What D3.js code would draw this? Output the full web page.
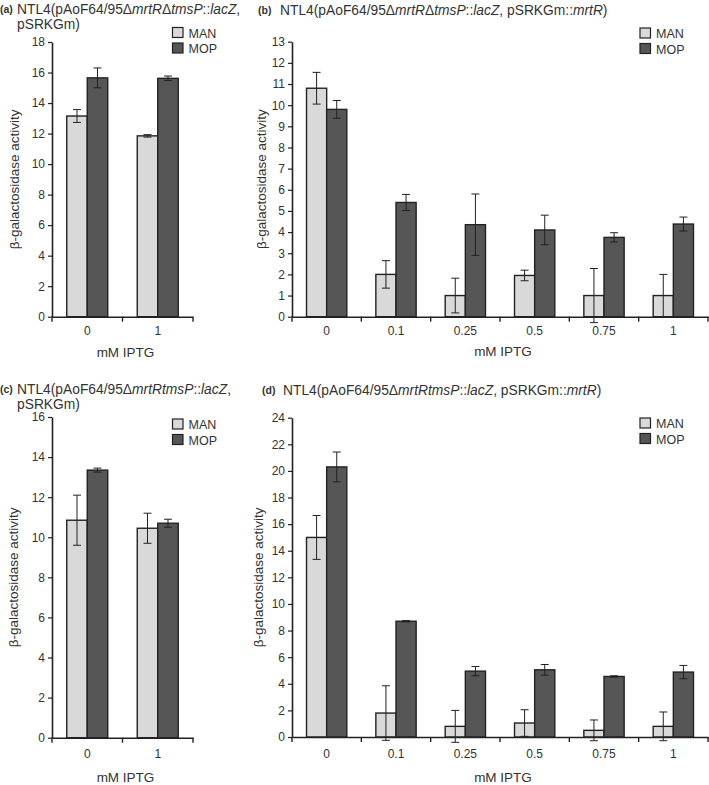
<!DOCTYPE html>
<html><head><meta charset="utf-8">
<script src="https://cdn.jsdelivr.net/npm/d3@7"></script>
<style>
body{margin:0;background:#fff;}
svg{display:block;font-family:"Liberation Sans",Arial,sans-serif;}
</style></head>
<body><svg id="c" width="709" height="785"></svg>
<script>
// ---- data ----
const series = ["MAN", "MOP"];
const catsAC = ["0", "1"];
const catsBD = ["0", "0.1", "0.25", "0.5", "0.75", "1"];

const aMAN = [13.15, 11.85], aMANerr = [0.42, 0.08];
const aMOP = [15.65, 15.62], aMOPerr = [0.65, 0.15];
const aTicks = [0, 2, 4, 6, 8, 10, 12, 14, 16, 18];

const bMAN = [10.8, 2.0, 1.0, 1.95, 1.0, 1.0], bMANerr = [0.75, 0.65, 0.82, 0.25, 1.28, 1.0];
const bMOP = [9.8, 5.4, 4.35, 4.1, 3.75, 4.38], bMOPerr = [0.42, 0.38, 1.45, 0.7, 0.22, 0.33];
const bTicks = [0, 1, 2, 3, 4, 5, 6, 7, 8, 9, 10, 11, 12, 13];

const cMAN = [10.85, 10.45], cMANerr = [1.25, 0.75];
const cMOP = [13.35, 10.7], cMOPerr = [0.1, 0.2];
const cTicks = [0, 2, 4, 6, 8, 10, 12, 14, 16];

const dMAN = [15.0, 1.8, 0.8, 1.05, 0.5, 0.8], dMANerr = [1.65, 2.05, 1.2, 1.0, 0.78, 1.08];
const dMOP = [20.3, 8.7, 4.95, 5.05, 4.55, 4.88], dMOPerr = [1.12, 0.05, 0.35, 0.4, 0.05, 0.5];
const dTicks = [0, 2, 4, 6, 8, 10, 12, 14, 16, 18, 20, 22, 24];

const colors = {MAN: "#d9d9d9", MOP: "#565656"};

// title pieces: [text, italic]
const titleA1 = [["NTL4(pAoF64/95Δ",0],["mrtR",1],["Δ",0],["tmsP",1],["::",0],["lacZ",1],[",",0]];
const titleA2 = [["pSRKGm)",0]];
const titleB1 = [["NTL4(pAoF64/95Δ",0],["mrtR",1],["Δ",0],["tmsP",1],["::",0],["lacZ",1],[", pSRKGm::",0],["mrtR",1],[")",0]];
const titleC1 = [["NTL4(pAoF64/95Δ",0],["mrtRtmsP",1],["::",0],["lacZ",1],[",",0]];
const titleC2 = [["pSRKGm)",0]];
const titleD1 = [["NTL4(pAoF64/95Δ",0],["mrtRtmsP",1],["::",0],["lacZ",1],[", pSRKGm::",0],["mrtR",1],[")",0]];

const svg = d3.select("#c");
const ink = "#222";
const txt = "#333";

function drawPanel(p) {
  const g = svg.append("g");
  // title
  g.append("text").attr("x", p.tagX).attr("y", p.titleY - 1).attr("font-size", 10.5)
    .attr("font-weight", "bold").attr("fill", txt).text(p.tag);
  p.title.forEach((line, i) => {
    const t = g.append("text").attr("x", p.titleX).attr("y", p.titleY + i * 14.5)
      .attr("font-size", 13.8).attr("fill", txt);
    line.forEach(([s, it]) => t.append("tspan").attr("font-style", it ? "italic" : "normal").text(s));
  });

  const x = d3.scaleBand().domain(p.cats).range([p.x0, p.x1]).padding(0);
  const xs = d3.scaleBand().domain(series).range([0, x.bandwidth()]).paddingInner(0).paddingOuter(0.72);
  const y = d3.scaleLinear().domain([0, d3.max(p.ticks)]).range([p.y0, p.yTop]);

  const rows = [];
  p.cats.forEach((c, i) => {
    rows.push({cat: c, s: "MAN", v: p.man[i], e: p.manErr[i]});
    rows.push({cat: c, s: "MOP", v: p.mop[i], e: p.mopErr[i]});
  });

  g.selectAll("rect.bar").data(rows).join("rect").attr("class", "bar")
    .attr("x", d => x(d.cat) + xs(d.s))
    .attr("y", d => y(d.v))
    .attr("width", xs.bandwidth())
    .attr("height", d => y(0) - y(d.v))
    .attr("fill", d => colors[d.s])
    .attr("stroke", ink).attr("stroke-width", 1.4);

  // error bars
  const eg = g.selectAll("g.err").data(rows).join("g").attr("class", "err")
    .attr("stroke", ink).attr("stroke-width", 1);
  const cx = d => x(d.cat) + xs(d.s) + xs.bandwidth() / 2;
  eg.append("line").attr("x1", cx).attr("x2", cx)
    .attr("y1", d => y(d.v + d.e)).attr("y2", d => y(d.v - d.e));
  eg.append("line").attr("x1", d => cx(d) - 4).attr("x2", d => cx(d) + 4)
    .attr("y1", d => y(d.v + d.e)).attr("y2", d => y(d.v + d.e));
  eg.append("line").attr("x1", d => cx(d) - 4).attr("x2", d => cx(d) + 4)
    .attr("y1", d => y(d.v - d.e)).attr("y2", d => y(d.v - d.e));

  // y axis
  const ya = g.append("g").attr("transform", `translate(${p.x0},0)`)
    .call(d3.axisLeft(y).tickValues(p.ticks).tickSize(4).tickSizeOuter(0).tickPadding(3));
  ya.select(".domain").attr("stroke", ink).attr("stroke-width", 1.6);
  ya.selectAll(".tick line").attr("stroke", ink).attr("stroke-width", 1.2);
  ya.selectAll(".tick text").attr("font-size", 12).attr("fill", txt)
    .attr("font-family", "Liberation Sans, Arial, sans-serif");

  // x axis
  const xa = g.append("g").attr("transform", `translate(0,${p.y0})`)
    .call(d3.axisBottom(x).tickSize(0).tickSizeOuter(0).tickPadding(p.xPad));
  xa.select(".domain").attr("stroke", ink).attr("stroke-width", 1.6);
  xa.selectAll(".tick text").attr("font-size", 12).attr("fill", txt)
    .attr("font-family", "Liberation Sans, Arial, sans-serif");
  const bounds = p.cats.map(c => x(c)).concat([x(p.cats[p.cats.length - 1]) + x.bandwidth()]);
  xa.selectAll("line.bt").data(bounds).join("line").attr("class", "bt")
    .attr("x1", d => d).attr("x2", d => d).attr("y1", 0).attr("y2", 5)
    .attr("stroke", ink).attr("stroke-width", 1.4);

  // axis titles
  g.append("text").attr("x", (p.x0 + p.x1) / 2 + 3).attr("y", p.xLabelY)
    .attr("text-anchor", "middle").attr("font-size", 13.5).attr("fill", txt).text("mM IPTG");
  g.append("text").attr("transform", `translate(${p.yLabelX},${(p.y0 + p.yTop) / 2}) rotate(-90)`)
    .attr("text-anchor", "middle").attr("font-size", 13.5).attr("fill", txt).text("β-galactosidase activity");

  // legend
  series.forEach((s, i) => {
    g.append("rect").attr("x", p.legX).attr("y", p.legY + i * 15.5).attr("width", 10.5).attr("height", 10)
      .attr("fill", colors[s]).attr("stroke", ink).attr("stroke-width", 1.2);
    g.append("text").attr("x", p.legX + 16).attr("y", p.legY + i * 15.5 + 10)
      .attr("font-size", 12.5).attr("fill", txt).text(s);
  });
}

drawPanel({tag: "(a)", tagX: 0, titleX: 17, titleY: 14, title: [titleA1, titleA2],
  cats: catsAC, man: aMAN, manErr: aMANerr, mop: aMOP, mopErr: aMOPerr, ticks: aTicks,
  x0: 52, x1: 193, y0: 316.7, yTop: 42, xPad: 10, xLabelY: 357, yLabelX: 19, legX: 172.5, legY: 27.5});

drawPanel({tag: "(b)", tagX: 258, titleX: 280, titleY: 15, title: [titleB1],
  cats: catsBD, man: bMAN, manErr: bMANerr, mop: bMOP, mopErr: bMOPerr, ticks: bTicks,
  x0: 292, x1: 708, y0: 316.7, yTop: 41.7, xPad: 10, xLabelY: 356, yLabelX: 266, legX: 640, legY: 28});

drawPanel({tag: "(c)", tagX: 0, titleX: 17, titleY: 394, title: [titleC1, titleC2],
  cats: catsAC, man: cMAN, manErr: cMANerr, mop: cMOP, mopErr: cMOPerr, ticks: cTicks,
  x0: 52, x1: 193, y0: 737.7, yTop: 417, xPad: 12, xLabelY: 782, yLabelX: 18, legX: 172.5, legY: 419});

drawPanel({tag: "(d)", tagX: 262, titleX: 283, titleY: 395, title: [titleD1],
  cats: catsBD, man: dMAN, manErr: dMANerr, mop: dMOP, mopErr: dMOPerr, ticks: dTicks,
  x0: 292, x1: 708, y0: 737, yTop: 417.7, xPad: 12, xLabelY: 782, yLabelX: 263, legX: 640, legY: 418});
</script></body></html>
